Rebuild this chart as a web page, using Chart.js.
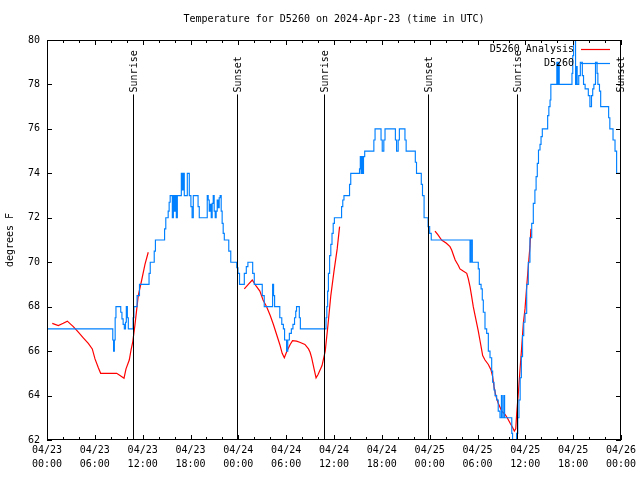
<!DOCTYPE html>
<html>
<head>
<meta charset="utf-8">
<script src="https://cdn.jsdelivr.net/npm/chart.js@4.4.1/dist/chart.umd.min.js"></script>
<style>
html,body{margin:0;padding:0;background:#ffffff;}
#wrap{width:640px;height:480px;}
</style>
</head>
<body>
<div id="wrap"><canvas id="c" width="640" height="480"></canvas></div>
<script>
// ---------------- data ----------------
const titleText = 'Temperature for D5260 on 2024-Apr-23 (time in UTC)';
const yAxisTitle = 'degrees F';
const seriesNames = ['D5260 Analysis', 'D5260'];
const seriesColors = ['#ff0000', '#0080ff'];

// x values are hours since 2024-04-23 00:00 UTC
const xTickDates = ['04/23','04/23','04/23','04/23','04/24','04/24','04/24','04/24','04/25','04/25','04/25','04/25','04/26'];
const xTickTimes = ['00:00','06:00','12:00','18:00','00:00','06:00','12:00','18:00','00:00','06:00','12:00','18:00','00:00'];
const yTicks = [62,64,66,68,70,72,74,76,78,80];

const sunHours  = [10.83, 23.8, 34.8, 47.83, 58.92, 71.88];
const sunLabels = ['Sunrise','Sunset','Sunrise','Sunset','Sunrise','Sunset'];

// Analysis (red) – null marks a gap between runs
const analysisHours = [
  0.66,1.42,2.04,2.55,3.3,3.93,4.55,5.18,5.68,6.02,6.44,6.73,8.74,9.16,9.66,9.91,10.32,10.54,10.75,11.04,11.45,11.88,12.29,12.7,
  18,
  24.75,25.25,25.75,26.2,26.7,27.1,27.55,28.0,28.4,28.8,29.2,29.5,29.77,30.1,30.5,30.8,31.3,31.7,32.35,32.8,33.0,33.2,33.5,33.75,34.0,34.5,34.9,35.25,35.6,36.0,36.4,36.7,
  42,
  48.67,49.0,49.5,50.1,50.55,50.76,51.0,51.2,51.6,51.8,52.2,52.65,52.85,53.06,53.27,53.47,53.7,53.9,54.1,54.3,54.5,54.65,54.94,55.36,55.7,55.9,56.07,56.3,56.6,57.04,57.45,57.73,58.1,58.42,58.62,58.8,58.92,59.12,59.33,59.55,59.75,59.96,60.17,60.37,60.58,60.7
];
const analysisTemps = [
  67.25,67.15,67.25,67.35,67.1,66.85,66.6,66.35,66.1,65.65,65.25,65.0,65.0,64.9,64.78,65.2,65.6,66.05,66.4,67.2,68.5,69.2,69.9,70.45,
  null,
  68.8,69.0,69.2,68.95,68.7,68.3,68.0,67.6,67.2,66.75,66.3,65.9,65.7,66.0,66.3,66.47,66.45,66.4,66.3,66.1,65.95,65.7,65.2,64.8,64.95,65.35,66.0,67.2,68.5,69.6,70.6,71.6,
  null,
  71.4,71.25,71.0,70.85,70.7,70.55,70.3,70.1,69.85,69.7,69.6,69.5,69.25,68.9,68.45,68.0,67.6,67.25,66.9,66.5,66.1,65.8,65.6,65.4,65.15,64.85,64.4,64.0,63.65,63.3,63.15,63.0,62.75,62.55,62.4,62.5,63.2,64.1,65.15,66.2,67.25,67.9,68.9,69.8,70.7,71.5
];

// Observations (blue) – each point is the time a new reading takes effect
const obsHours = [
  0,8.25,8.35,8.45,8.55,8.65,9.25,9.4,9.55,9.7,9.85,9.95,10.08,10.2,10.8,10.9,11.3,11.6,12.8,12.95,13.45,13.6,14.75,14.9,
  15.2,15.32,15.45,15.72,15.85,15.97,16.1,16.22,16.35,16.85,16.97,17.1,17.22,17.6,17.85,18.05,18.2,18.35,18.95,19.1,
  20.1,20.22,20.35,20.47,20.6,20.72,20.85,20.97,21.1,21.22,21.35,21.47,21.6,21.72,21.85,21.97,22.1,22.24,22.8,23.05,
  23.8,23.95,24.15,24.75,25.0,25.2,25.8,26.0,27.0,27.25,28.3,28.42,28.55,29.2,29.45,29.65,29.8,30.05,30.2,30.4,30.65,
  30.85,31.05,31.2,31.3,31.65,31.78,35.0,35.1,35.2,35.3,35.45,35.6,35.75,35.9,36.05,36.95,37.1,37.25,37.95,38.1,
  39.2,39.3,39.4,39.5,39.6,39.7,39.85,41.0,41.15,41.9,42.05,42.25,42.4,43.7,43.85,44.05,44.2,44.9,45.05,
  46.2,46.35,46.95,47.1,47.3,47.8,48.0,48.2,53.06,53.2,53.35,53.5,54.1,54.23,54.45,54.6,54.73,54.94,55.15,
  55.36,55.57,55.78,55.9,56.07,56.2,56.4,56.6,56.82,57.0,57.1,57.3,57.4,58.3,58.4,58.9,59.05,59.2,59.35,59.5,
  59.65,59.8,59.96,60.17,60.37,60.58,60.8,61.0,61.2,61.35,61.5,61.65,61.84,61.97,62.13,62.8,62.95,63.1,63.2,
  63.95,64.05,64.15,64.25,65.85,65.95,66.05,66.3,66.4,66.5,66.7,66.9,67.15,67.3,67.5,67.9,68.1,68.3,68.45,68.6,
  68.8,69.0,69.1,69.3,69.45,70.45,70.6,71.0,71.25,71.45,72.0
];
const obsTemps = [
  67,66.5,66,66.5,67.5,68,67.75,67.45,67.2,67,67.3,68,67.5,67,67.5,68,68.5,69,69.5,70,70.5,71,71.5,72,
  72.3,72.7,73,72,73,72.3,73,72,73,74,73.25,74,73,74,73,72.5,72,73,72.5,72,
  73,72.8,72.3,72.6,72,72.65,73,72.3,72,72.3,72.8,72.45,72.9,73,72.3,71.75,71.3,71,70.5,70,
  69.75,69.5,69,69.5,69.8,70,69.5,69,68.5,68,69,68.5,68,67.5,67.2,67,66.5,66,66.5,66.8,67,
  67.2,67.5,67.8,68,67.5,67,67.5,68,68.7,69.5,70.3,70.8,71.3,71.75,72,72.5,72.8,73,73.5,74,
  74.2,74.75,74,74.75,74,74.75,75,75.5,76,75.5,75,75.5,76,75.5,75,75.5,76,75.5,75,
  74.5,74,73.5,73,72,71.6,71.3,71,70,71,70,70,69.7,69,68.8,68.3,67.75,67,66.8,
  66,65.7,65.1,64.6,64.25,64,63.8,63.3,63,64,63,64,63,62.3,61.8,62.3,63,63.8,64.8,65.75,
  66.7,67.3,67.7,69,70,71.1,71.75,72.65,73.25,73.85,74.45,75.05,75.3,75.65,76,76.6,77,77.3,78,
  79,78,79,78,78.5,79.3,80.4,78,78.8,78,78.4,79,78.4,78,77.8,77.5,77,77.5,77.8,78,
  79,78.5,78,77.7,77,76.5,76,75.5,75,74,74
];

// ---------------- chart ----------------
const FONT = "'DejaVu Sans Mono', 'Liberation Mono', monospace";
const majorStep = 6, minorStep = 2;

const toXY = (xs, ys) => xs.map((v, i) => ({x: v, y: ys[i]}));

const framePlugin = {
  id: 'frame',
  afterDatasetsDraw(chart) {
    const {ctx, chartArea: ca, scales: {x, y}} = chart;
    ctx.save();
    ctx.strokeStyle = '#000';
    ctx.fillStyle = '#000';
    ctx.lineWidth = 1;
    // sunrise / sunset markers
    const topPix = y.getPixelForValue(77.55);
    ctx.font = '10px ' + FONT;
    sunHours.forEach((h, i) => {
      const px = Math.round(x.getPixelForValue(h)) + 0.5;
      ctx.beginPath();
      ctx.moveTo(px, ca.bottom);
      ctx.lineTo(px, topPix);
      ctx.stroke();
      ctx.save();
      ctx.translate(px + 1, topPix - 2);
      ctx.rotate(-Math.PI / 2);
      ctx.textAlign = 'left';
      ctx.textBaseline = 'middle';
      ctx.fillText(sunLabels[i], 0, 0);
      ctx.restore();
    });
    // tick marks (inward, mirrored)
    ctx.beginPath();
    yTicks.forEach(v => {
      const py = Math.round(y.getPixelForValue(v)) + 0.5;
      ctx.moveTo(ca.left, py); ctx.lineTo(ca.left + 5, py);
      ctx.moveTo(ca.right, py); ctx.lineTo(ca.right - 5, py);
    });
    for (let v = x.min; v <= x.max; v += minorStep) {
      const px = Math.round(x.getPixelForValue(v)) + 0.5;
      const len = (v % majorStep === 0) ? 5 : 3;
      ctx.moveTo(px, ca.bottom); ctx.lineTo(px, ca.bottom - len);
      ctx.moveTo(px, ca.top); ctx.lineTo(px, ca.top + len);
    }
    ctx.stroke();
    // border
    ctx.strokeRect(Math.round(ca.left) + 0.5, Math.round(ca.top) + 0.5,
                   Math.round(ca.right - ca.left) - 1, Math.round(ca.bottom - ca.top) - 1);
    // key
    ctx.textAlign = 'right';
    ctx.textBaseline = 'middle';
    seriesNames.forEach((name, i) => {
      const ky = Math.round(ca.top + 9 + i * 13.5) + 0.5;
      ctx.fillStyle = '#000';
      ctx.fillText(name, ca.right - 47, ky);
      ctx.strokeStyle = seriesColors[i];
      ctx.lineWidth = 1.2;
      ctx.beginPath();
      ctx.moveTo(ca.right - 40, ky);
      ctx.lineTo(ca.right - 11, ky);
      ctx.stroke();
    });
    ctx.restore();
  }
};

new Chart(document.getElementById('c'), {
  type: 'line',
  data: {
    datasets: [
      {
        label: seriesNames[0],
        data: toXY(analysisHours, analysisTemps),
        borderColor: seriesColors[0],
        borderWidth: 1.2,
        pointRadius: 0,
        spanGaps: false,
        tension: 0,
        order: 1
      },
      {
        label: seriesNames[1],
        data: toXY(obsHours, obsTemps),
        borderColor: seriesColors[1],
        borderWidth: 1.15,
        pointRadius: 0,
        stepped: true,
        order: 0
      }
    ]
  },
  options: {
    responsive: false,
    devicePixelRatio: 1,
    animation: false,
    events: [],
    layout: { padding: { left: 0, right: 19, top: 0, bottom: 0 } },
    plugins: {
      legend: { display: false },
      tooltip: { enabled: false },
      title: {
        display: true,
        text: titleText,
        fullSize: false,
        color: '#000',
        font: { family: FONT, size: 10, weight: 'normal', lineHeight: 1.2 },
        padding: { top: 13, bottom: 15 }
      }
    },
    scales: {
      x: {
        type: 'linear',
        min: 0,
        max: 72,
        grid: { display: false, drawTicks: false },
        border: { display: false },
        ticks: {
          stepSize: majorStep,
          autoSkip: false,
          maxRotation: 0,
          padding: 3,
          color: '#000',
          font: { family: FONT, size: 10, lineHeight: 1.4 },
          callback: (v) => {
            const i = Math.round(v / majorStep);
            return [xTickDates[i], xTickTimes[i]];
          }
        },
        afterFit: (s) => { s.height = 40; }
      },
      y: {
        min: 62,
        max: 80,
        grid: { display: false, drawTicks: false },
        border: { display: false },
        ticks: {
          stepSize: 2,
          padding: 7,
          color: '#000',
          font: { family: FONT, size: 10 }
        },
        title: {
          display: true,
          text: yAxisTitle,
          color: '#000',
          font: { family: FONT, size: 10, lineHeight: 1.2 },
          padding: { top: 4, bottom: 0 }
        },
        afterFit: (s) => { s.width = 47; }
      }
    }
  },
  plugins: [framePlugin]
});
</script>
</body>
</html>
